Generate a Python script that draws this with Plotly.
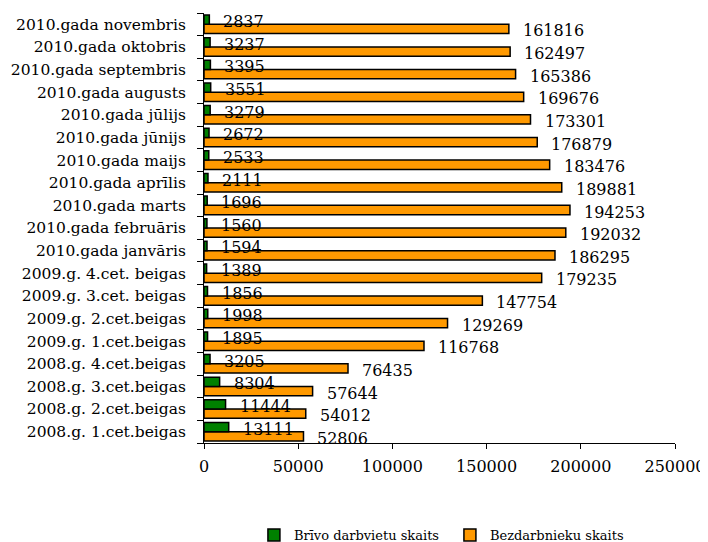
import plotly.graph_objects as go

categories = [
    "2008.g. 1.cet.beigas", "2008.g. 2.cet.beigas", "2008.g. 3.cet.beigas",
    "2008.g. 4.cet.beigas", "2009.g. 1.cet.beigas", "2009.g. 2.cet.beigas",
    "2009.g. 3.cet. beigas", "2009.g. 4.cet. beigas", "2010.gada janvāris",
    "2010.gada februāris", "2010.gada marts", "2010.gada aprīlis",
    "2010.gada maijs", "2010.gada jūnijs", "2010.gada jūlijs",
    "2010.gada augusts", "2010.gada septembris", "2010.gada oktobris",
    "2010.gada novembris",
]
vacancies = [13111, 11444, 8304, 3205, 1895, 1998, 1856, 1389, 1594, 1560,
             1696, 2111, 2533, 2672, 3279, 3551, 3395, 3237, 2837]
unemployed = [52806, 54012, 57644, 76435, 116768, 129269, 147754, 179235,
              186295, 192032, 194253, 189881, 183476, 176879, 173301,
              169676, 165386, 162497, 161816]
x_ticks = [0, 50000, 100000, 150000, 200000, 250000]

FONT = "DejaVu Serif"
W = 0.41

fig = go.Figure()
fig.add_trace(go.Bar(
    y=categories, x=unemployed, orientation="h", name="Bezdarbnieku skaits",
    marker=dict(color="#FF9900", line=dict(color="black", width=1.5)),
    offset=-W, width=W, legendrank=2,
))
fig.add_trace(go.Bar(
    y=categories, x=vacancies, orientation="h", name="Brīvo darbvietu skaits",
    marker=dict(color="#008000", line=dict(color="black", width=1.5)),
    offset=0, width=W, legendrank=1,
))

annotations = []
for i, (v, u) in enumerate(zip(vacancies, unemployed)):
    annotations.append(dict(x=v, y=i + W / 2, text=str(v), showarrow=False,
                            xanchor="left", yanchor="middle", xshift=12, yshift=-2,
                            font=dict(family=FONT, size=16, color="black")))
    annotations.append(dict(x=u, y=i - W / 2, text=str(u), showarrow=False,
                            xanchor="left", yanchor="middle", xshift=12, yshift=-2,
                            font=dict(family=FONT, size=16, color="black")))

fig.update_layout(
    width=700, height=534,
    margin=dict(l=196, r=33, t=5, b=99, autoexpand=False),
    paper_bgcolor="white", plot_bgcolor="white",
    barmode="overlay",
    font=dict(family=FONT, size=16, color="black"),
    showlegend=True,
    legend=dict(orientation="h", x=0.106, xanchor="left", y=-0.214, yanchor="middle",
                font=dict(family=FONT, size=13, color="black"), entrywidth=151),
    annotations=annotations,
    xaxis=dict(range=[0, 250000], tickvals=x_ticks, ticktext=[str(t) for t in x_ticks],
               showgrid=False, zeroline=False, showline=True, linecolor="black", linewidth=1,
               ticks="outside", ticklen=5, tickcolor="black", ticklabelstandoff=4,
               automargin=False, tickfont=dict(family=FONT, size=16)),
    yaxis=dict(type="category", range=[-0.5, len(categories) - 0.5],
               showgrid=False, zeroline=False, showline=True, linecolor="black", linewidth=1,
               ticks="outside", ticklen=6, tickcolor="black", tickson="boundaries",
               ticklabelstandoff=14, automargin=False, tickfont=dict(family=FONT, size=15.5)),
)

fig.write_html("out.html")
